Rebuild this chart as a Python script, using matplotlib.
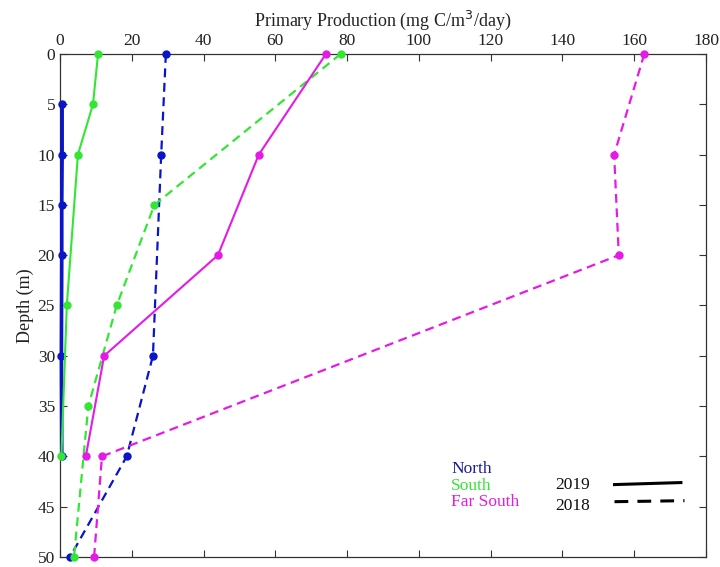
import matplotlib.pyplot as plt

plt.rcParams['font.family'] = ['Liberation Serif', 'DejaVu Serif']

# depth profiles of primary production (mg C/m3/day)
north_2019_depth = [5, 10, 15, 20, 30, 40]
north_2019_pp = [0.6, 0.6, 0.5, 0.5, 0.4, 0.5]
north_2018_depth = [0, 10, 30, 40, 50]
north_2018_pp = [29.5, 28.2, 25.9, 18.6, 2.8]

south_2019_depth = [0, 5, 10, 25, 40]
south_2019_pp = [10.6, 9.2, 5.0, 1.9, 0.4]
south_2018_depth = [0, 15, 25, 35, 50]
south_2018_pp = [78.2, 26.3, 15.8, 7.9, 3.9]

farsouth_2019_depth = [0, 10, 20, 30, 40]
farsouth_2019_pp = [74.1, 55.4, 44.0, 12.3, 7.2]
farsouth_2018_depth = [0, 10, 20, 40, 50]
farsouth_2018_pp = [162.8, 154.4, 155.7, 11.7, 9.5]

blue = '#0a14c8'
green = '#33e633'
magenta = '#e619e6'
dash = (0, (4, 2.5))

fig = plt.figure(figsize=(7.2, 5.67), dpi=100)
ax = fig.add_axes([0.0833, 0.0176, 0.8973, 0.8872])

style = dict(marker='o', ms=5, clip_on=False, zorder=3)
ax.plot(north_2019_pp, north_2019_depth, '-', color=blue, lw=2.6, **style)
ax.plot(north_2018_pp, north_2018_depth, color=blue, ls=dash, lw=1.6, **style)
ax.plot(south_2019_pp, south_2019_depth, '-', color=green, lw=1.5, **style)
ax.plot(south_2018_pp, south_2018_depth, color=green, ls=dash, lw=1.6, **style)
ax.plot(farsouth_2019_pp, farsouth_2019_depth, '-', color=magenta, lw=1.5, **style)
ax.plot(farsouth_2018_pp, farsouth_2018_depth, color=magenta, ls=dash, lw=1.6, **style)

ax.set_xlim(0, 180)
ax.set_ylim(50, 0)
ax.set_xticks(range(0, 181, 20))
ax.set_yticks(range(0, 51, 5))
ax.xaxis.set_ticks_position('both')
ax.yaxis.set_ticks_position('both')
ax.xaxis.set_label_position('top')
ax.tick_params(axis='x', labeltop=True, labelbottom=False)
ax.tick_params(direction='in', length=5, width=0.8, colors='#333333',
               labelsize=12.5, labelcolor='#222222')
for s in ax.spines.values():
    s.set_color('#333333')
    s.set_linewidth(0.9)

ax.set_xlabel('Primary Production (mg C/m$^3$/day)', fontsize=13, color='#222222', labelpad=5)
ax.set_ylabel('Depth (m)', fontsize=13, color='#222222', labelpad=3)

# region / year key
ax.text(109, 41.3, 'North', color='#1a1a9a', fontsize=12.5, va='center')
ax.text(109, 42.9, 'South', color=green, fontsize=12.5, va='center')
ax.text(109, 44.5, 'Far South', color=magenta, fontsize=12.5, va='center')
ax.text(138, 42.8, '2019', color='#111111', fontsize=12.5, va='center')
ax.text(138, 44.9, '2018', color='#111111', fontsize=12.5, va='center')
ax.plot([154.5, 173], [42.8, 42.6], '-', color='black', lw=2.2)
ax.plot([154.5, 174], [44.5, 44.4], color='black', ls=(0, (4.5, 3)), lw=2.2)

fig.savefig('out.png', dpi=100)
